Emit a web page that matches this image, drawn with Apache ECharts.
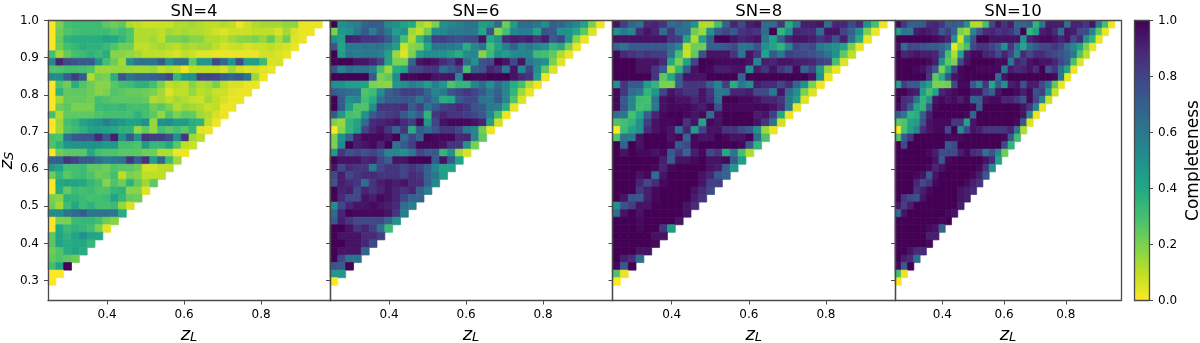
<!DOCTYPE html>
<html>
<head>
<meta charset="utf-8">
<style>
    html, body { margin: 0; padding: 0; background: #fff; }
    #chart { width: 1200px; height: 343px; }
</style>
<script src="https://cdn.jsdelivr.net/npm/echarts@6/dist/echarts.min.js"></script>
</head>
<body>
<div id="chart"></div>
<script>
// completeness in percent. top row is z_S = 1.0, each row starts at the first z_L bin
const sn4 = [
    [0,20,30,32,32,32,32,25,22,25,12,10,8,8,8,8,12,12,14,12,10,10,12,10,2,8,12,14,14,14,17,17,3,3,3],
    [0,22,28,30,32,32,32,32,28,32,28,12,12,12,10,14,12,14,12,12,10,7,5,8,8,8,10,10,10,6,14,6,3,3],
    [0,24,36,38,38,38,38,42,40,35,28,12,12,14,10,20,20,22,18,18,12,12,10,14,17,18,20,16,24,12,22,5,3],
    [0,22,30,34,38,36,36,33,28,22,22,10,10,12,14,12,10,14,12,14,14,10,6,8,9,6,8,8,10,8,6,3],
    [30,14,24,30,32,36,32,38,18,18,16,14,10,10,10,8,6,10,8,4,4,3,3,3,3,3,3,7,7,5,3],
    [55,90,78,74,72,72,50,30,22,14,50,62,62,62,72,50,62,62,25,48,48,78,66,50,78,45,45,32,6,6],
    [28,28,30,30,30,28,15,15,16,16,15,14,14,16,10,12,10,2,10,10,10,10,6,14,8,5,6,4,3],
    [52,52,70,82,72,12,22,20,38,75,62,68,68,70,72,78,34,48,50,80,80,78,72,68,72,62,15,2],
    [0,28,22,38,28,22,18,18,26,30,32,36,36,30,20,10,12,10,18,12,14,20,10,6,6,3,3],
    [0,36,25,25,25,22,18,20,28,26,24,24,22,20,14,5,10,10,16,10,12,8,8,4,3,3],
    [0,14,24,24,24,22,30,28,26,26,26,26,24,12,14,10,14,12,9,8,14,10,6,3,3],
    [0,22,26,20,20,20,32,33,32,34,30,30,30,22,26,20,12,16,14,12,8,10,3,3],
    [30,12,25,25,25,25,28,30,30,30,30,36,30,26,16,28,20,26,24,14,12,6,3],
    [0,15,30,34,42,46,50,58,52,48,42,44,50,16,50,52,46,46,38,36,10,2],
    [0,14,28,32,36,42,44,42,40,36,36,16,24,16,30,26,30,26,34,4,3],
    [30,28,62,72,75,75,88,72,92,50,72,50,85,82,82,76,50,85,15,10],
    [28,36,48,50,50,50,50,46,48,30,30,28,46,34,34,40,26,10,8],
    [0,22,26,26,26,40,30,28,28,26,26,26,22,22,12,12,2,2],
    [70,70,85,80,72,72,65,58,60,62,85,70,85,45,68,32,14],
    [48,42,30,30,32,25,25,22,28,26,26,22,7,7,10,10],
    [22,34,26,30,32,28,22,24,30,10,20,18,10,10,10],
    [0,40,42,42,40,34,30,18,28,22,36,24,15,25],
    [0,38,24,32,30,32,28,28,34,36,18,18,5],
    [20,18,36,35,32,30,30,32,42,34,24,22],
    [22,14,32,40,32,36,30,30,32,16,6],
    [52,52,62,65,72,60,62,62,60,38],
    [0,20,20,32,34,34,30,22,18],
    [0,40,32,36,34,30,20,4],
    [26,42,36,42,50,42,40],
    [26,42,38,40,40,34],
    [22,28,38,42,38],
    [24,28,26,22],
    [30,42,100],
    [0,0],
    [0],
]
const sn6 = [
    [100,50,55,58,68,72,70,52,50,42,40,15,10,20,50,55,58,62,62,45,48,65,22,45,65,65,62,50,70,68,60,55,42,20,2],
    [20,48,50,60,72,58,72,60,45,50,15,10,22,52,55,60,60,62,60,40,75,18,30,55,58,58,42,75,72,50,50,40,25,5],
    [50,45,92,90,85,85,82,72,55,30,12,35,55,82,82,78,75,78,78,95,40,50,88,92,90,92,85,92,72,80,50,18,3],
    [75,42,60,60,62,62,62,55,45,8,18,20,40,62,62,60,58,38,55,62,30,42,58,70,55,60,55,50,35,40,20,3],
    [100,45,60,58,60,60,58,42,15,5,20,45,52,52,50,45,38,52,55,18,32,50,45,52,55,55,32,30,25,12,3],
    [100,100,100,95,95,90,80,42,20,20,68,95,98,95,88,82,95,65,50,75,78,100,95,78,95,60,55,50,20,4],
    [75,55,65,62,62,58,30,15,38,42,78,80,85,85,65,72,80,30,70,75,90,85,60,95,55,80,50,25,5],
    [100,100,100,100,100,72,20,25,52,98,98,100,100,95,95,95,55,100,98,98,100,100,100,95,88,85,45,2],
    [50,50,45,45,42,20,18,17,48,50,58,55,45,58,48,28,35,35,55,65,50,65,55,38,30,12,2],
    [72,68,65,62,28,32,52,70,75,82,82,80,68,55,60,75,80,85,80,72,60,70,55,35,15,3],
    [100,72,50,55,30,38,62,72,72,75,72,62,72,60,38,40,72,78,78,62,60,72,55,28,5],
    [100,72,45,28,28,50,85,85,85,88,72,82,62,72,82,85,88,85,75,72,60,58,38,3],
    [72,48,30,28,50,72,80,82,85,72,62,72,35,85,90,85,85,82,78,72,55,30,3],
    [20,15,35,42,65,88,90,92,95,88,82,98,48,80,95,98,98,98,95,90,45,7],
    [0,18,35,45,80,90,95,85,68,85,38,72,65,75,85,85,78,60,55,22,3],
    [20,50,70,92,98,98,98,95,100,65,80,70,100,98,98,98,88,90,55,25],
    [20,55,100,92,95,98,90,100,62,72,82,98,98,98,95,85,85,50,20],
    [48,85,75,80,75,80,72,55,55,50,60,80,72,72,35,50,15,6],
    [100,95,95,95,90,92,80,70,95,95,100,100,100,72,95,72,42],
    [95,78,88,85,85,60,80,85,85,80,85,80,70,55,42,42],
    [78,92,78,85,88,88,85,85,85,80,88,85,68,60,45],
    [75,92,88,85,65,85,92,95,92,95,88,88,70,55],
    [100,90,92,78,90,85,90,95,90,85,90,70,58],
    [100,88,78,78,95,92,98,95,90,80,68,68],
    [52,78,90,95,95,98,95,92,88,65,58],
    [65,90,100,98,98,98,98,95,85,58],
    [72,92,85,78,78,78,78,68,50],
    [100,100,95,85,90,82,62,32],
    [100,95,95,95,88,88,82],
    [100,100,95,95,90,78],
    [100,95,95,95,68],
    [100,80,62,62],
    [75,72,100],
    [48,48],
    [0],
]
const sn8 = [
    [95,82,68,62,88,90,85,65,68,62,50,12,12,30,68,90,78,92,95,65,65,85,38,60,92,92,95,65,90,90,78,88,50,30,2],
    [50,60,55,88,95,90,65,85,65,65,22,15,50,72,80,72,85,88,85,65,100,35,50,90,88,88,65,95,95,80,70,50,20,2],
    [95,95,95,95,95,95,95,85,82,42,12,42,72,100,100,95,90,92,95,60,42,70,90,95,95,92,85,90,75,92,65,38,3],
    [68,62,72,72,72,72,72,65,55,10,22,22,70,70,72,78,62,62,75,50,42,35,55,80,75,78,60,55,50,42,20,3],
    [98,88,85,82,85,82,82,62,30,8,25,75,95,95,95,85,62,95,85,42,72,60,82,78,78,75,70,62,50,25,10],
    [100,100,100,95,95,95,88,40,20,42,80,100,100,98,98,98,98,95,55,92,90,95,95,92,92,90,82,80,30,5],
    [100,100,100,95,95,85,72,15,35,72,95,100,98,92,92,95,95,50,92,85,95,85,78,98,68,80,45,15,3],
    [100,100,100,100,100,85,25,40,72,95,95,95,100,100,100,100,68,100,100,100,100,100,100,100,100,95,50,2],
    [50,85,72,72,45,35,20,20,70,85,85,85,70,55,82,38,60,50,92,88,88,78,88,68,50,20,2],
    [98,85,65,60,35,48,80,95,90,85,85,95,85,60,62,90,90,92,78,78,60,95,65,50,20,5],
    [98,72,55,32,30,62,95,98,95,95,90,95,88,62,100,100,98,98,95,90,90,85,60,45,5],
    [98,75,55,30,32,60,95,98,98,98,95,92,98,75,98,98,98,98,98,98,95,88,60,3],
    [65,62,30,40,70,90,98,100,100,98,95,98,65,95,100,100,100,100,92,95,82,40,3],
    [28,30,35,50,82,95,98,98,100,85,95,42,98,95,100,100,100,100,95,85,62,7],
    [0,32,42,50,88,95,98,95,65,90,45,80,95,95,85,85,78,72,50,15,3],
    [28,62,60,95,100,100,100,95,98,68,98,95,95,100,98,95,95,100,65,28],
    [100,68,100,95,100,100,100,98,72,78,98,100,100,100,100,100,98,72,35],
    [100,95,100,98,98,95,98,72,85,68,92,98,78,85,40,62,30,12],
    [100,100,100,100,100,100,92,70,95,95,98,100,95,95,98,72,45],
    [100,100,100,100,100,98,90,98,100,100,100,100,95,92,70,48],
    [100,100,100,95,98,65,95,100,100,100,100,95,90,72,68],
    [100,100,100,90,78,88,98,100,100,100,100,95,82,82],
    [100,100,100,85,92,98,100,100,100,100,95,88,78],
    [100,95,75,72,92,98,100,100,100,100,92,85],
    [50,75,82,95,95,100,100,100,100,95,88],
    [65,95,100,95,100,100,100,100,100,95],
    [100,100,100,98,100,100,100,100,95],
    [100,100,100,98,100,100,85,45],
    [100,100,100,100,100,95,95],
    [100,100,100,100,100,98],
    [100,100,100,95,95],
    [100,92,88,65],
    [98,72,100],
    [28,3],
    [0],
]
const sn10 = [
    [98,85,70,70,72,88,90,85,70,72,70,50,12,12,30,78,95,85,92,68,68,72,35,60,92,92,92,62,90,90,85,95,60,30,2],
    [45,62,60,92,95,92,90,72,82,68,20,15,55,75,88,90,85,88,85,72,100,35,45,92,95,88,65,95,92,78,78,55,25,3],
    [100,100,100,100,100,100,98,95,90,50,8,42,75,100,100,95,95,95,95,95,50,90,95,98,98,95,90,95,78,88,50,35,3],
    [95,65,78,78,75,72,72,68,58,3,18,30,78,85,85,80,72,50,85,60,40,65,72,80,80,85,80,65,55,42,20,3],
    [100,90,92,95,92,92,90,72,30,12,42,92,98,98,90,88,78,90,80,55,88,78,88,88,82,78,75,70,60,28,10],
    [100,100,100,100,100,98,92,50,25,20,78,95,100,100,100,100,98,98,60,90,85,95,98,95,95,90,80,72,30,5],
    [100,100,100,98,95,88,72,20,42,80,98,100,100,98,98,98,98,60,92,88,90,95,88,100,75,85,62,40,3],
    [100,100,100,100,100,85,25,38,75,95,98,100,100,100,100,100,65,95,100,100,100,100,100,100,100,98,60,3],
    [42,82,72,72,55,42,20,20,22,78,98,98,72,55,85,40,72,50,92,95,75,92,92,78,62,25,3],
    [100,100,95,92,45,30,42,90,95,98,100,100,95,95,78,70,95,100,100,98,92,98,75,82,45,8],
    [100,88,85,62,35,48,95,98,95,98,92,98,68,70,95,98,98,90,90,85,75,98,80,55,8],
    [98,88,72,40,35,75,98,100,100,100,100,100,98,72,100,100,100,100,100,100,95,85,55,3],
    [72,62,35,38,70,92,100,100,100,100,100,98,68,100,100,100,100,100,100,100,95,55,2],
    [25,28,42,45,75,95,98,98,98,85,85,42,95,100,100,100,100,100,100,98,72,5],
    [0,30,45,55,88,95,98,98,78,100,52,78,95,92,85,85,85,85,90,60,12],
    [28,72,85,100,100,100,100,100,98,98,98,100,100,100,100,100,100,98,72,30],
    [100,78,100,100,100,100,100,100,72,78,100,100,100,100,100,100,100,78,35],
    [100,100,100,100,100,98,92,78,78,78,92,98,88,85,62,75,55,22],
    [100,100,100,100,100,100,95,72,98,100,100,100,100,100,95,88,42],
    [100,100,100,100,100,98,90,95,100,100,100,100,100,98,85,50],
    [100,100,100,98,95,72,95,100,100,100,100,100,98,92,72],
    [100,100,100,90,78,85,98,100,100,100,100,98,92,85],
    [100,100,100,85,92,98,100,100,100,100,95,92,88],
    [100,85,78,75,95,100,100,100,100,100,95,92],
    [95,82,92,100,100,100,100,100,100,100,92],
    [65,95,100,100,100,100,100,100,98,95],
    [100,100,100,100,100,100,100,98,100],
    [100,100,100,100,100,98,95,68],
    [100,100,100,100,100,92,92],
    [100,100,100,100,100,98],
    [100,100,95,88,88],
    [100,92,88,65],
    [98,72,100],
    [30,3],
    [0],
]

const panelTitles = ["SN=4", "SN=6", "SN=8", "SN=10"]
const panelRows = [sn4, sn6, sn8, sn10]
const panelLeft = [48, 330, 612.5, 895]
const panelWidth = [282, 282, 282.5, 226]
const zlTicks = [0.4, 0.6, 0.8]
const zsTicks = [0.3, 0.4, 0.5, 0.6, 0.7, 0.8, 0.9, 1.0]
const cbarTicks = [0, 0.2, 0.4, 0.6, 0.8, 1.0]
const viridisR = ["#fde725", "#bddf26", "#7ad151", "#44bf70", "#22a884", "#21918c",
    "#2a788e", "#355f8d", "#414487", "#482475", "#440154"]

const zlMin = 0.2465
const zlMax = 0.979
const zsMin = 0.2468
const zsMax = 1.0
const binSize = 0.02035

const plotTop = 20.5
const plotHeight = 280
const frameColor = "#4a4a4a"
const font = "DejaVu Sans"

function cellsFrom(rows) {
    const cells = []
    rows.forEach((row, j) => {
        row.forEach((pct, i) => {
            cells.push([
                zlMin + binSize * i,
                zlMin + binSize * (i + 1),
                zsMax - binSize * (j + 1),
                zsMax - binSize * j,
                pct / 100,
            ])
        })
    })
    return cells
}

function renderCell(params, api) {
    const start = api.coord([api.value(0), api.value(3)])
    const end = api.coord([api.value(1), api.value(2)])
    const color = api.visual("color")
    return {
        type: "rect",
        shape: { x: start[0], y: start[1], width: end[0] - start[0], height: end[1] - start[1] },
        style: { fill: color, stroke: color, lineWidth: 0.7 },
    }
}

function renderBar(params, api) {
    const start = api.coord([0, 1])
    const end = api.coord([1, 0])
    const stops = viridisR.map((color, k) => ({ offset: k / (viridisR.length - 1), color }))
    return {
        type: "rect",
        shape: { x: start[0], y: start[1], width: end[0] - start[0], height: end[1] - start[1] },
        style: { fill: new echarts.graphic.LinearGradient(0, 1, 0, 0, stops) },
    }
}

const line = { show: true, onZero: false, lineStyle: { color: frameColor, width: 1.3 } }
const tickLine = { color: frameColor, width: 1 }
const grid = [], xAxis = [], yAxis = [], series = [], title = []

function frameAxis(gridIndex, min, max, position) {
    // top and right spines, cells would hide the grid border
    return {
        type: "value", gridIndex, min, max, position, z: 5,
        axisLine: line, axisTick: { show: false }, axisLabel: { show: false }, splitLine: { show: false },
    }
}

panelRows.forEach((rows, p) => {
    grid.push({ left: panelLeft[p], top: plotTop, width: panelWidth[p], height: plotHeight, outerBoundsMode: "none" })
    title.push({
        text: panelTitles[p],
        left: panelLeft[p] + panelWidth[p] / 2,
        top: -2,
        textAlign: "center",
        textStyle: { fontFamily: font, fontSize: 16.5, fontWeight: "normal", color: "#000" },
    })
    const xIndex = xAxis.length
    const yIndex = yAxis.length
    xAxis.push({
        type: "value", gridIndex: p, min: zlMin, max: zlMax, position: "bottom", z: 5,
        axisLine: line,
        axisTick: { show: true, length: 4, customValues: zlTicks, lineStyle: tickLine },
        axisLabel: {
            show: true, customValues: zlTicks, formatter: v => v.toFixed(1), margin: 8,
            fontFamily: font, fontSize: 12, color: "#000",
        },
        splitLine: { show: false },
        name: "{z|z}{s|L}",
        nameLocation: "middle",
        nameGap: 26,
        nameTextStyle: {
            rich: {
                z: { fontFamily: font, fontStyle: "italic", fontSize: 18, color: "#000" },
                s: { fontFamily: font, fontStyle: "italic", fontSize: 13, color: "#000", verticalAlign: "bottom" },
            },
        },
    })
    yAxis.push({
        type: "value", gridIndex: p, min: zsMin, max: zsMax, position: "left", z: 5,
        axisLine: line,
        axisTick: { show: true, length: 4, customValues: zsTicks, lineStyle: tickLine },
        axisLabel: {
            show: p === 0, customValues: zsTicks, formatter: v => v.toFixed(1), margin: 9,
            fontFamily: font, fontSize: 12, color: "#000",
        },
        splitLine: { show: false },
        name: p === 0 ? "{z|z}{s|S}" : "",
        nameLocation: "middle",
        nameGap: 31,
        nameTextStyle: {
            rich: {
                z: { fontFamily: font, fontStyle: "italic", fontSize: 18, color: "#000" },
                s: { fontFamily: font, fontStyle: "italic", fontSize: 13, color: "#000", verticalAlign: "bottom" },
            },
        },
    })
    xAxis.push(frameAxis(p, zlMin, zlMax, "top"))
    yAxis.push(frameAxis(p, zsMin, zsMax, "right"))
    series.push({
        type: "custom",
        xAxisIndex: xIndex,
        yAxisIndex: yIndex,
        renderItem: renderCell,
        clip: false,
        animation: false,
        encode: { x: [0, 1], y: [2, 3] },
        data: cellsFrom(rows),
    })
})

// colorbar
grid.push({ left: 1134.5, top: plotTop, width: 14.5, height: plotHeight, outerBoundsMode: "none" })
xAxis.push({
    type: "value", gridIndex: 4, min: 0, max: 1, position: "bottom", z: 5,
    axisLine: line, axisTick: { show: false }, axisLabel: { show: false }, splitLine: { show: false },
})
yAxis.push({
    type: "value", gridIndex: 4, min: 0, max: 1, interval: 0.2, position: "right", z: 5,
    axisLine: line,
    axisTick: { show: true, length: 4, lineStyle: tickLine },
    axisLabel: {
        show: true, formatter: v => v.toFixed(1), customValues: cbarTicks, margin: 9,
        fontFamily: font, fontSize: 12, color: "#000",
    },
    splitLine: { show: false },
    name: "Completeness",
    nameLocation: "middle",
    nameRotate: 90,
    nameGap: 36,
    nameTextStyle: { fontFamily: font, fontSize: 17, color: "#000" },
})
xAxis.push(frameAxis(4, 0, 1, "top"))
yAxis.push(frameAxis(4, 0, 1, "left"))
series.push({
    type: "custom",
    xAxisIndex: xAxis.length - 2,
    yAxisIndex: yAxis.length - 2,
    renderItem: renderBar,
    animation: false,
    data: [[0, 1]],
})

const chart = echarts.init(document.getElementById("chart"), null, { renderer: "canvas" })
chart.setOption({
    animation: false,
    backgroundColor: "#fff",
    title,
    grid,
    xAxis,
    yAxis,
    visualMap: {
        show: false,
        type: "continuous",
        min: 0,
        max: 1,
        dimension: 4,
        seriesIndex: [0, 1, 2, 3],
        inRange: { color: viridisR },
    },
    series,
})
</script>
</body>
</html>
